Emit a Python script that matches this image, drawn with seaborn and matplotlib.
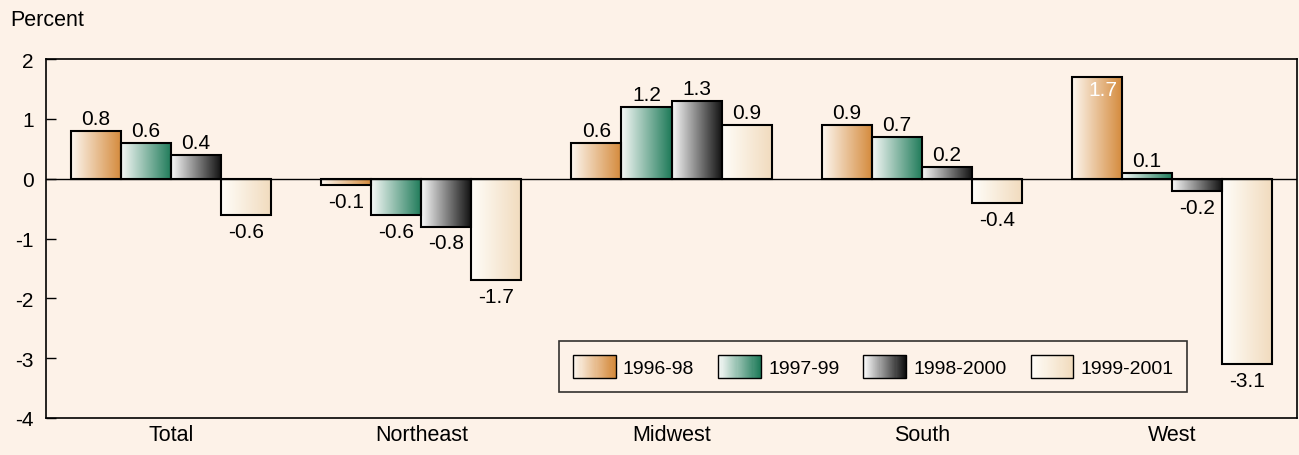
import numpy as np
import pandas as pd
import matplotlib
matplotlib.use("Agg")
import matplotlib.pyplot as plt
import seaborn as sns
from matplotlib import font_manager
from matplotlib.colors import LinearSegmentedColormap
from matplotlib.legend_handler import HandlerPatch
from matplotlib.patches import Rectangle, Patch

# chart data
regions = ['Total', 'Northeast', 'Midwest', 'South', 'West']
periods = ['1996-98', '1997-99', '1998-2000', '1999-2001']
v_1996_98 = [0.8, -0.1, 0.6, 0.9, 1.7]
v_1997_99 = [0.6, -0.6, 1.2, 0.7, 0.1]
v_1998_2000 = [0.4, -0.8, 1.3, 0.2, -0.2]
v_1999_2001 = [-0.6, -1.7, 0.9, -0.4, -3.1]

series = [v_1996_98, v_1997_99, v_1998_2000, v_1999_2001]
rows = []
for p, vals in zip(periods, series):
    for r, v in zip(regions, vals):
        rows.append({'region': r, 'period': p, 'value': v})
df = pd.DataFrame(rows)

bg = '#fdf2e8'
# gradient ends (left -> right) per period
grads = {
    '1996-98': ('#fdf7f0', '#d4893a'),
    '1997-99': ('#f7f9f7', '#1d7a58'),
    '1998-2000': ('#fafafa', '#0e0e0e'),
    '1999-2001': ('#fffdf9', '#f1dbbd'),
}
cmaps = {p: LinearSegmentedColormap.from_list(p, grads[p]) for p in periods}

sns.set_style('white')
installed = {f.name for f in font_manager.fontManager.ttflist}
narrow = [f for f in ['Liberation Sans Narrow', 'Liberation Sans'] if f in installed]
plt.rcParams['font.family'] = narrow[:1] + ['DejaVu Sans']
plt.rcParams['text.color'] = 'black'
plt.rcParams['xtick.color'] = 'black'
plt.rcParams['ytick.color'] = 'black'
fs_num = 15     # value labels
fs_leg = 14     # legend
fs_txt = 15.5   # words

fig = plt.figure(figsize=(12.99, 4.56), dpi=100, facecolor=bg)
ax = fig.add_axes([46 / 1299, 1 - 419 / 456, 1251 / 1299, 359 / 456])
ax.set_facecolor(bg)

sns.barplot(data=df, x='region', y='value', hue='period', order=regions,
            hue_order=periods, width=0.8, ax=ax, legend=False,
            edgecolor='black', linewidth=1.5, saturation=1)

grad = np.linspace(0, 1, 256).reshape(1, -1)
for cont, p in zip(ax.containers, periods):
    for bar, v in zip(cont.patches, df[df['period'] == p]['value']):
        x0, w = bar.get_x(), bar.get_width()
        y0, h = bar.get_y(), bar.get_height()
        bar.set_facecolor('none')
        bar.set_zorder(3)
        ax.imshow(grad, cmap=cmaps[p], aspect='auto', zorder=2,
                  extent=(x0, x0 + w, min(y0, y0 + h), max(y0, y0 + h)),
                  interpolation='bilinear')
        cx = x0 + w / 2
        if p == '1996-98' and v > 1.5:
            ax.annotate(f'{v:.1f}', (x0 + w, v), xytext=(-3, -2), textcoords='offset points',
                        ha='right', va='top', color='white', fontsize=fs_num, zorder=5)
        elif v >= 0:
            ax.annotate(f'{v:.1f}', (cx, v), xytext=(0, 2), textcoords='offset points',
                        ha='center', va='bottom', fontsize=fs_num, zorder=5)
        else:
            ax.annotate(f'{v:.1f}', (cx, v), xytext=(0, -5), textcoords='offset points',
                        ha='center', va='top', fontsize=fs_num, zorder=5)

ax.axhline(0, color='black', lw=1, zorder=4)
ax.set_xlim(-0.5, 4.5)
ax.set_ylim(-4, 2)
ax.set_aspect('auto')
ax.set_yticks(range(-4, 3))
ax.set_yticklabels([str(t) for t in range(-4, 3)])
ax.set_xlabel('')
ax.set_ylabel('')
ax.tick_params(axis='y', direction='in', length=7, width=1, labelsize=fs_num, pad=9, left=True)
ax.tick_params(axis='x', length=0, labelsize=fs_txt, pad=4)
for s in ax.spines.values():
    s.set_color('black')
    s.set_linewidth(1.2)
    s.set_visible(True)

fig.text(10 / 1299, 1 - 20 / 456, 'Percent', fontsize=fs_txt, va='center', ha='left')


class GradHandler(HandlerPatch):
    def __init__(self, cmap):
        super().__init__()
        self.cmap = cmap

    def create_artists(self, legend, orig_handle, xdescent, ydescent, width, height, fontsize, trans):
        n = 40
        arts = []
        for i in range(n):
            r = Rectangle((-xdescent + width * i / n, -ydescent), width / n + 0.3, height,
                          facecolor=self.cmap(i / (n - 1)), edgecolor='none', transform=trans)
            arts.append(r)
        arts.append(Rectangle((-xdescent, -ydescent), width, height, facecolor='none',
                              edgecolor='black', lw=1, transform=trans))
        return arts


handles = [Patch(label=p) for p in periods]
leg = ax.legend(handles=handles, labels=periods, ncol=4, loc='upper left',
                bbox_to_anchor=((559 - 46) / 1251, (419 - 342) / 359), frameon=True,
                fontsize=fs_leg, handlelength=2.2, handleheight=1.44, columnspacing=1.24,
                handletextpad=0.36, borderpad=0.72, borderaxespad=0, fancybox=False,
                handler_map={h: GradHandler(cmaps[p]) for h, p in zip(handles, periods)})
leg.get_frame().set_edgecolor('black')
leg.get_frame().set_facecolor(bg)
leg.get_frame().set_linewidth(1.2)
leg.set_zorder(6)

fig.savefig('out.png', dpi=100, facecolor=bg)
